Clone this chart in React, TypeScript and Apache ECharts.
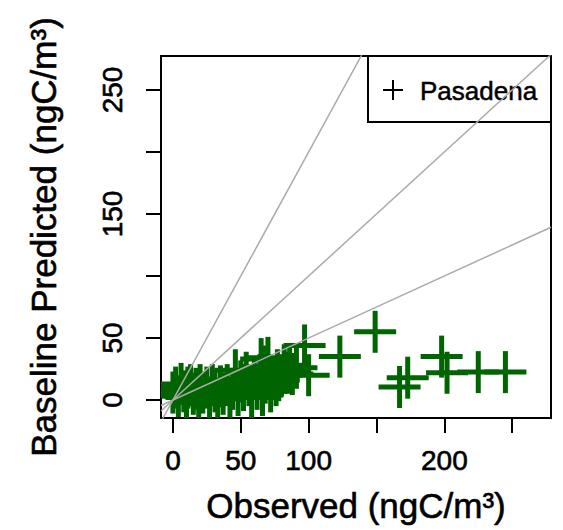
import React, { useEffect, useRef } from "react";
import * as echarts from "echarts";

const seriesName = "Pasadena";
const observed = [
  0, 2, 4, 6, 8, 10, 11, 13, 15, 17, 19, 20, 22, 25, 27, 29, 31, 33, 35, 37, 40, 42, 44,
  46, 48, 50, 52, 54, 56, 58, 60, 62, 64, 65, 66, 67, 68, 70, 71, 72, 74, 76, 77, 78, 80, 82, 83, 86, 88, 91, 97, 100,
  123, 149, 167, 173, 198, 202, 225, 245,
];
const predicted = [
  6, 10, 3, 13, 7, 2, 10, 12, 5, 9, 1, 12, 6, 10, 2, 12, 7, 1, 11, 5, 12, 2, 9,
  24, 4, 15, 8, 22, 12, 2, 17, 9, 20, 33, 4, 27, 14, 34, 20, 7, 17, 12, 24, 16, 20, 28, 22, 25, 21, 26, 44, 20,
  35, 55, 10.5, 18, 35, 22, 22.5, 22.5,
];
const tickValues = [0, 50, 100, 150, 200, 250];
const xLabelValues = [0, 50, 100, 200];
const yLabelValues = [0, 50, 150, 250];
const refSlopes = [2, 1, 0.5];

export default function App() {
  const ref = useRef<HTMLDivElement>(null);
  useEffect(() => {
    const chart = echarts.init(ref.current!, null, { renderer: "svg" });
    const font = "'Liberation Sans', Arial, Helvetica, sans-serif";
    const xMin = -8.8, xMax = 278.6, yMin = -14.5, yMax = 277.4;
    const green = "#006400";
    const heavy = { textBorderColor: "#000", textBorderWidth: 0.6 };
    const option: any = {
      animation: false,
      textStyle: { fontFamily: font },
      grid: {
        left: 161, top: 56, right: 12, bottom: 112,
        show: true, borderColor: "#000", borderWidth: 2, backgroundColor: "transparent",
      },
      xAxis: {
        type: "value", min: xMin, max: xMax,
        splitLine: { show: false },
        axisLine: { show: true, onZero: false, lineStyle: { color: "#000", width: 2 } },
        axisTick: { show: true, length: 15, lineStyle: { color: "#000", width: 2 }, customValues: tickValues },
        axisLabel: { customValues: xLabelValues, fontSize: 28, color: "#000", margin: 28, fontFamily: font, ...heavy },
        name: "Observed (ngC/m³)", nameLocation: "middle", nameGap: 70,
        nameTextStyle: { fontSize: 35, color: "#000", fontFamily: font, ...heavy },
      },
      yAxis: {
        type: "value", min: yMin, max: yMax,
        splitLine: { show: false },
        axisLine: { show: true, onZero: false, lineStyle: { color: "#000", width: 2 } },
        axisTick: { show: true, length: 15, lineStyle: { color: "#000", width: 2 }, customValues: tickValues },
        axisLabel: { customValues: yLabelValues, fontSize: 28, color: "#000", margin: 35, rotate: 90, fontFamily: font, ...heavy },
        name: "Baseline Predicted (ngC/m³)", nameLocation: "middle", nameGap: 100, nameRotate: 90,
        nameTextStyle: { fontSize: 35, color: "#000", fontFamily: font, ...heavy },
      },
      series: [
        {
          type: "custom",
          name: seriesName,
          clip: true,
          z: 2,
          data: observed.map((x, i) => [x, predicted[i]]),
          renderItem: (params: any, api: any) => {
            const p = api.coord([api.value(0), api.value(1)]);
            const h = 21;
            return {
              type: "group",
              children: [
                { type: "line", shape: { x1: p[0] - h, y1: p[1], x2: p[0] + h, y2: p[1] }, style: { stroke: green, lineWidth: 5 } },
                { type: "line", shape: { x1: p[0], y1: p[1] - h, x2: p[0], y2: p[1] + h }, style: { stroke: green, lineWidth: 5 } },
              ],
            };
          },
        },
        ...refSlopes.map((s) => ({
          type: "line",
          clip: true,
          z: 3,
          symbol: "none",
          silent: true,
          lineStyle: { color: "#ababab", width: 1.5 },
          data: [[xMin, s * xMin], [xMax, s * xMax]],
        })),
      ],
      graphic: [
        {
          type: "group", z: 100,
          children: [
            { type: "rect", shape: { x: 368, y: 56, width: 183, height: 66 }, style: { fill: "#fff", stroke: "#000", lineWidth: 2 } },
            { type: "line", shape: { x1: 383, y1: 90, x2: 403, y2: 90 }, style: { stroke: "#000", lineWidth: 2 } },
            { type: "line", shape: { x1: 393, y1: 80, x2: 393, y2: 100 }, style: { stroke: "#000", lineWidth: 2 } },
            { type: "text", x: 420, y: 91, style: { text: seriesName, fontSize: 26, fontFamily: font, fill: "#000", verticalAlign: "middle", textAlign: "left", stroke: "#000", lineWidth: 0.5 } },
          ],
        },
      ],
    };
    chart.setOption(option);
    return () => chart.dispose();
  }, []);
  return <div ref={ref} style={{ width: 563, height: 530, position: "absolute", left: 0, top: 0 }} />;
}
